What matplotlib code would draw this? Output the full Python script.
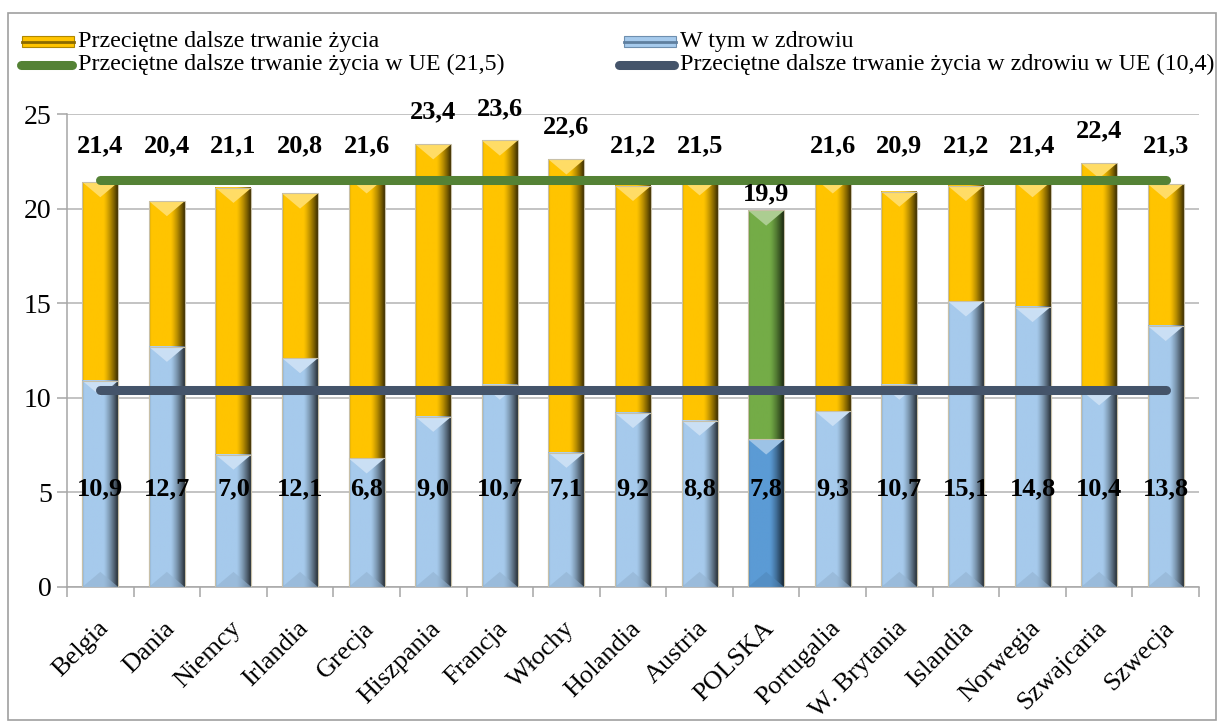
import numpy as np
import matplotlib
matplotlib.use("Agg")
import matplotlib.pyplot as plt
from matplotlib.patches import Rectangle, Polygon
from matplotlib.lines import Line2D
from matplotlib.colors import to_rgb

categories = ["Belgia", "Dania", "Niemcy", "Irlandia", "Grecja", "Hiszpania", "Francja",
              "Włochy", "Holandia", "Austria", "POLSKA", "Portugalia", "W. Brytania",
              "Islandia", "Norwegia", "Szwajcaria", "Szwecja"]
total = [21.4, 20.4, 21.1, 20.8, 21.6, 23.4, 23.6, 22.6, 21.2, 21.5, 19.9, 21.6, 20.9,
         21.2, 21.4, 22.4, 21.3]
healthy = [10.9, 12.7, 7.0, 12.1, 6.8, 9.0, 10.7, 7.1, 9.2, 8.8, 7.8, 9.3, 10.7,
           15.1, 14.8, 10.4, 13.8]
eu_total = 21.5
eu_healthy = 10.4
highlight = "POLSKA"

series_total = "Przeciętne dalsze trwanie życia"
series_healthy = "W tym w zdrowiu"
series_eu_total = "Przeciętne dalsze trwanie życia w UE (21,5)"
series_eu_healthy = "Przeciętne dalsze trwanie życia w zdrowiu w UE (10,4)"

GOLD = "#FFC400"
BLUE = "#A6CAEC"
GREEN_BAR = "#74AC47"
BLUE_DARK = "#5B9BD5"
GREEN_LINE = "#548235"
SLATE = "#44546A"

plt.rcParams["font.family"] = ["Liberation Serif", "DejaVu Serif"]

fig = plt.figure(figsize=(12.18, 7.22), dpi=100)
W, H = 1218, 722
ax = fig.add_axes([67 / W, 1 - 587 / H, (1199 - 67) / W, (587 - 114) / H])

x = np.arange(len(categories))
bw = 0.54


def grad(color):
    c = np.array(to_rgb(color))
    t = np.linspace(0, 1, 64)
    f = np.ones_like(t)
    f = np.where(t < 0.06, 0.85 + 0.15 * t / 0.06, f)
    f = np.where(t > 0.6, 1 - 0.75 * ((t - 0.6) / 0.4) ** 1.3, f)
    img = np.clip(c[None, :] * f[:, None], 0, 1)
    return img[None, :, :]


def lighten(color, a):
    c = np.array(to_rgb(color))
    return tuple(c + (1 - c) * a)


def darken(color, a):
    c = np.array(to_rgb(color))
    return tuple(c * (1 - a))


def draw_bar(xc, h, color, z):
    x0, x1 = xc - bw / 2, xc + bw / 2
    ax.imshow(grad(color), extent=[x0, x1, 0, h], aspect="auto", zorder=z,
              interpolation="bilinear")
    d = 0.8
    ax.add_patch(Polygon([(x0, h), (x1, h), (xc, h - d)], closed=True,
                         facecolor=lighten(color, 0.4), edgecolor="none", zorder=z + 0.1))
    ax.add_patch(Polygon([(x0, 0), (x1, 0), (xc, d)], closed=True,
                         facecolor=darken(color, 0.12), edgecolor="none", alpha=0.6,
                         zorder=z + 0.1))
    ax.add_patch(Rectangle((x0, 0), bw, h, facecolor="none", edgecolor="#C8C0A8",
                           lw=0.8, zorder=z + 0.2))


for i, (c, t, h) in enumerate(zip(categories, total, healthy)):
    hl = c == highlight
    draw_bar(x[i], t, GREEN_BAR if hl else GOLD, 2)
    draw_bar(x[i], h, BLUE_DARK if hl else BLUE, 3)

ax.plot(x, [eu_total] * len(x), color=GREEN_LINE, lw=6.5, solid_capstyle="round", zorder=5)
ax.plot(x, [eu_healthy] * len(x), color=SLATE, lw=6.5, solid_capstyle="round", zorder=5)

lab_kw = dict(ha="center", va="center", fontsize=19, fontweight="bold", zorder=6)
for i, (c, t, h) in enumerate(zip(categories, total, healthy)):
    if c == highlight:
        ty = t + 0.9
    else:
        ty = max(t + 1.7, 23.3)
    ax.text(x[i], ty, f"{t:.1f}".replace(".", ","), **lab_kw)
    ax.text(x[i], 5.2, f"{h:.1f}".replace(".", ","), **lab_kw)

ax.set_xlim(-0.5, len(x) - 0.5)
ax.set_ylim(0, 25)
ax.set_yticks(np.arange(0, 26, 5))
ax.yaxis.grid(True, color="#B3B3B3", lw=1.1, zorder=0)
ax.set_axisbelow(True)
for s in ["top", "right"]:
    ax.spines[s].set_visible(False)
for s in ["left", "bottom"]:
    ax.spines[s].set_color("#A6A6A6")
    ax.spines[s].set_linewidth(1.1)
ax.set_xticks(np.arange(-0.5, len(x), 1.0), minor=False)
ax.set_xticklabels([])
ax.tick_params(axis="x", length=7, color="#A6A6A6", width=1.1)
ax.tick_params(axis="y", length=7, color="#A6A6A6", width=1.1, labelsize=20, pad=4)
for i, c in enumerate(categories):
    ax.text(x[i] - 0.05, -1.6, c, rotation=45, ha="right", va="top",
            rotation_mode="anchor", fontsize=19)

# legend (manual)
def fx(px):
    return px / W


def fy(py):
    return 1 - py / H


leg_fs = 17.3
fig.add_artist(Rectangle((fx(22), fy(47)), fx(52), 11 / H, facecolor=GOLD,
                         edgecolor="#B08800", lw=0.8, transform=fig.transFigure))
fig.add_artist(Line2D([fx(22), fx(74)], [fy(41.5), fy(41.5)], color="#8A6A00", lw=2,
                      transform=fig.transFigure))
fig.text(fx(78), fy(41), series_total, fontsize=leg_fs, va="center")
fig.add_artist(Line2D([fx(21), fx(72)], [fy(64.5), fy(64.5)], color=GREEN_LINE, lw=6.5,
                      solid_capstyle="round", transform=fig.transFigure))
fig.text(fx(78), fy(64), series_eu_total, fontsize=leg_fs, va="center")
fig.add_artist(Rectangle((fx(624), fy(47)), fx(52), 11 / H, facecolor=BLUE,
                         edgecolor="#6E8FAF", lw=0.8, transform=fig.transFigure))
fig.add_artist(Line2D([fx(624), fx(676)], [fy(41.5), fy(41.5)], color="#5F7F9F", lw=2,
                      transform=fig.transFigure))
fig.text(fx(680), fy(41), series_healthy, fontsize=leg_fs, va="center")
fig.add_artist(Line2D([fx(619), fx(674)], [fy(64.5), fy(64.5)], color=SLATE, lw=6.5,
                      solid_capstyle="round", transform=fig.transFigure))
fig.text(fx(680), fy(64), series_eu_healthy, fontsize=leg_fs, va="center")

# outer border
fig.add_artist(Rectangle((fx(8), fy(720)), fx(1216 - 8), (720 - 13) / H, facecolor="none",
                         edgecolor="#A0A0A0", lw=1.2, transform=fig.transFigure))

fig.savefig("out.png", dpi=100)
